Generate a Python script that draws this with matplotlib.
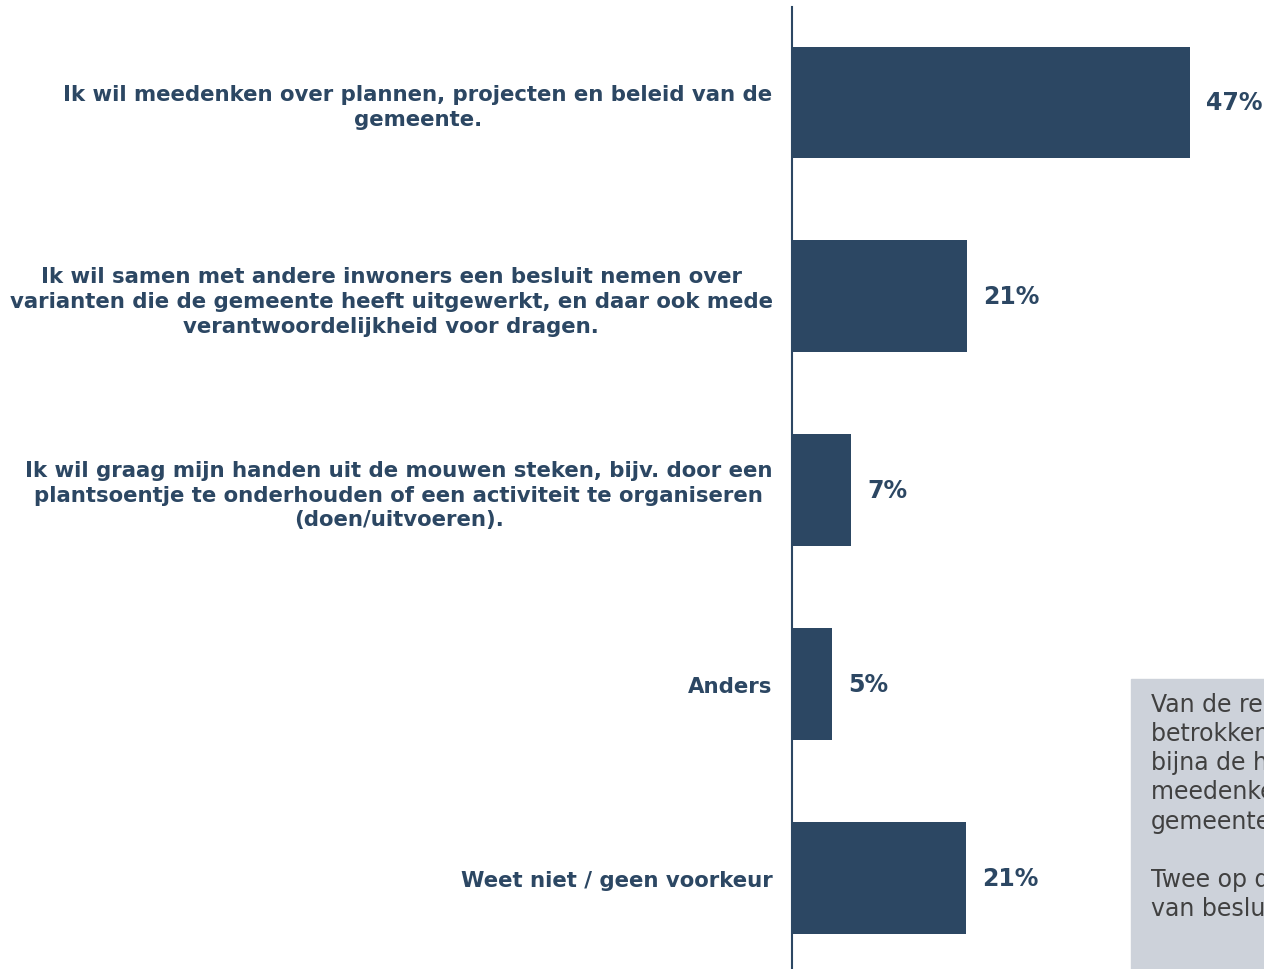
import matplotlib.pyplot as plt
from matplotlib.patches import Rectangle

# answer options and share of respondents (%)
categories = [
    "Ik wil meedenken over plannen, projecten en beleid van de\ngemeente.",
    "Ik wil samen met andere inwoners een besluit nemen over\nvarianten die de gemeente heeft uitgewerkt, en daar ook mede\nverantwoordelijkheid voor dragen.",
    "Ik wil graag mijn handen uit de mouwen steken, bijv. door een\nplantsoentje te onderhouden of een activiteit te organiseren\n(doen/uitvoeren).",
    "Anders",
    "Weet niet / geen voorkeur",
]
values = [47.0, 20.7, 7.0, 4.7, 20.5]
value_labels = ["47%", "21%", "7%", "5%", "21%"]

# side note (runs off the right edge, as in the original)
note = ("Van de respondenten die\n"
        "betrokken willen worden, wil\n"
        "bijna de helft vooral\n"
        "meedenken over beleid van de\n"
        "gemeente.\n\n"
        "Twee op de tien wil deel\n"
        "van besluitvorming zijn.")

navy = "#2C4763"

fig = plt.figure(figsize=(12.64, 9.70), dpi=100)
ax = fig.add_axes([792 / 1264, 0, 1 - 792 / 1264, 962 / 970])

ypos = list(range(len(categories)))
ax.barh(ypos, values, height=0.577, color=navy)
ax.set_xlim(0, 472 / 8.47)
ax.set_ylim(4.469, -0.4925)

for y, v, lab in zip(ypos, values, value_labels):
    ax.text(v + 1.9, y, lab, va="center", ha="left", fontsize=17,
            fontweight="bold", color=navy)

ax.set_yticks(ypos)
ax.set_yticklabels(categories, fontsize=15.3, fontweight="bold", color=navy,
                   multialignment="center", linespacing=1.3)
ax.tick_params(axis="y", length=0, pad=14)
ax.set_xticks([])
for s in ["top", "right", "bottom"]:
    ax.spines[s].set_visible(False)
ax.spines["left"].set_color(navy)
ax.spines["left"].set_linewidth(1.5)

# grey note box
fig.patches.append(Rectangle((1131 / 1264, 0), 0.2, 290 / 970,
                             transform=fig.transFigure, color="#CDD2DA",
                             zorder=0))
fig.text(1151 / 1264, 1 - 693 / 970, note, fontsize=17, color="#404040",
         va="top", ha="left", linespacing=1.27)

fig.savefig("out.png", dpi=100)
